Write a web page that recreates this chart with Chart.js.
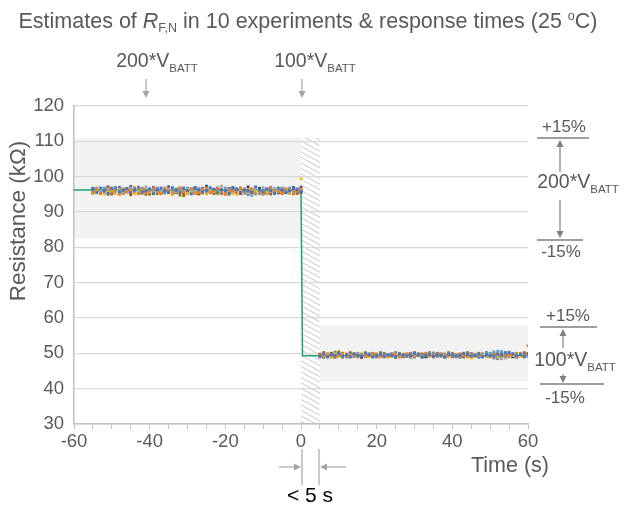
<!DOCTYPE html>
<html>
<head>
<meta charset="utf-8">
<script src="https://cdn.jsdelivr.net/npm/chart.js@4.4.1/dist/chart.umd.min.js"></script>
<style>
  html, body { margin: 0; padding: 0; background: #fff; }
  #wrap { position: relative; width: 636px; height: 510px; }
</style>
</head>
<body>
<div id="wrap"><canvas id="chart" width="636" height="510"></canvas></div>
<script>
// time axis (s)
const leftTimes = [-55,-54,-53,-52,-51,-50,-49,-48,-47,-46,-45,-44,-43,-42,-41,-40,-39,-38,-37,-36,-35,-34,-33,-32,-31,-30,-29,-28,-27,-26,-25,-24,-23,-22,-21,-20,-19,-18,-17,-16,-15,-14,-13,-12,-11,-10,-9,-8,-7,-6,-5,-4,-3,-2,-1,0];
const rightTimes = [5,6,7,8,9,10,11,12,13,14,15,16,17,18,19,20,21,22,23,24,25,26,27,28,29,30,31,32,33,34,35,36,37,38,39,40,41,42,43,44,45,46,47,48,49,50,51,52,53,54,55,56,57,58,59,60];
const xTicks = [-60, -40, -20, 0, 20, 40, 60];
const yTicks = [30, 40, 50, 60, 70, 80, 90, 100, 110, 120];

// R_F,N estimates (kOhm), 200*VBATT phase
const left1 = [96.4,95.5,96.8,96.0,95.3,96.6,96.9,95.7,96.1,96.7,95.4,96.3,97.0,95.6,96.0,96.5,95.2,96.3,96.8,96.0,95.5,96.9,96.2,95.6,96.6,96.0,95.1,96.7,96.3,95.7,96.0,96.9,96.5,95.4,96.3,96.0,95.3,96.7,96.5,95.6,96.2,96.0,95.5,97.1,96.2,95.7,96.5,96.0,95.3,96.8,96.2,95.6,96.0,96.6,96.3,95.7];
const left2 = [95.6,96.5,95.2,96.0,96.8,95.5,96.3,95.1,96.6,95.7,96.0,96.9,95.3,96.3,95.5,96.0,96.8,95.7,95.2,96.6,96.0,95.4,96.3,96.8,95.7,96.0,96.5,95.2,95.7,96.3,96.8,95.5,96.0,96.6,95.7,95.1,96.3,96.0,95.5,96.8,95.7,96.3,96.6,95.4,96.0,95.2,96.3,96.8,95.7,96.0,95.5,96.6,96.3,95.7,96.0,96.5];
const left3 = [96.0,96.8,96.3,95.5,96.6,96.9,95.7,96.3,95.5,96.0,96.8,96.3,95.7,96.6,97.1,96.0,95.5,96.3,96.0,96.8,96.6,95.7,96.0,96.3,96.9,96.6,95.5,96.0,96.8,96.3,95.7,96.6,96.0,96.9,97.3,96.3,95.7,96.0,96.6,96.8,96.0,95.5,96.3,96.6,96.0,96.9,96.3,95.7,96.6,96.0,96.8,96.3,95.5,96.0,96.6,96.3];
const left4 = [95.4,95.8,96.3,95.1,95.6,96.0,95.3,94.9,95.8,95.6,96.1,95.2,95.8,95.4,96.3,95.6,95.1,95.8,95.6,96.1,95.4,94.9,95.8,95.6,96.0,95.3,95.8,95.2,95.6,96.1,95.4,95.8,95.6,95.1,96.0,95.8,95.4,95.6,95.0,95.8,96.3,95.6,95.3,95.8,96.0,95.2,95.6,95.8,95.4,96.0,95.6,95.8,95.2,95.6,96.1,99.4];
const left5 = [96.5,96.0,95.7,96.8,96.3,95.5,96.0,96.6,96.3,95.7,96.8,96.0,95.5,96.3,96.5,95.7,96.0,96.8,96.3,95.5,96.0,96.6,95.7,96.3,96.0,96.8,96.5,95.7,96.3,96.0,95.5,96.5,96.3,95.7,96.0,96.8,96.3,95.5,96.0,96.6,95.3,94.9,94.7,95.1,95.5,96.0,96.3,95.7,96.6,96.0,95.5,96.3,96.8,96.0,95.7,96.3];
const left6 = [96.2,96.0,96.4,95.8,96.2,96.6,96.0,95.8,96.4,96.2,95.8,96.0,96.4,96.2,95.6,96.0,96.2,96.4,96.0,95.8,96.2,96.0,96.5,96.2,95.8,96.0,96.2,96.4,96.0,95.7,96.2,96.0,96.4,96.2,95.8,96.0,96.3,96.4,96.0,95.8,96.2,96.0,96.4,96.2,95.7,96.0,96.2,96.4,96.0,95.8,96.2,96.0,96.4,96.2,95.8,96.0];
const left7 = [96.7,96.0,95.3,96.5,97.1,95.5,96.2,96.9,95.7,96.5,97.2,96.0,95.3,96.7,96.2,95.5,96.9,96.5,95.7,96.0,97.1,96.2,95.5,96.7,96.0,95.3,96.5,96.9,95.7,96.2,97.3,96.0,95.5,96.7,96.2,95.3,96.0,96.9,96.5,95.7,96.2,97.1,95.5,96.0,96.7,95.1,96.5,96.9,95.7,96.2,96.7,95.5,96.0,96.9,96.5,97.0];
const left8 = [95.5,96.0,95.3,95.8,96.2,95.1,95.5,96.0,95.3,95.8,94.9,95.5,96.0,95.3,95.8,95.1,95.5,96.0,95.3,95.8,95.5,95.1,96.0,95.5,95.3,95.8,96.2,95.5,95.1,95.8,95.3,96.0,95.5,95.8,95.3,95.1,95.8,96.0,95.5,95.3,95.8,95.1,95.5,96.0,95.3,95.8,95.5,95.1,96.0,95.5,95.3,95.8,96.2,95.5,95.3,95.8];
const left9 = [96.0,96.5,95.7,96.2,96.7,96.0,95.5,96.5,96.2,95.7,96.0,96.7,96.2,95.5,96.0,96.5,96.9,96.2,95.7,96.0,96.5,96.2,95.7,96.7,96.0,96.2,95.5,96.5,96.0,96.7,96.2,95.7,96.0,96.5,96.2,95.7,96.7,96.0,96.2,95.5,96.5,96.0,95.7,96.2,96.7,96.0,95.3,95.5,96.2,96.0,96.5,95.7,96.2,96.7,96.0,96.2];
const left10 = [95.3,95.8,95.4,95.6,95.0,95.8,95.4,95.2,95.6,95.8,95.2,95.4,95.8,95.6,95.0,95.4,95.8,95.2,95.6,95.4,95.8,95.2,95.6,94.8,94.6,95.4,95.8,95.6,95.2,95.4,95.8,95.6,95.2,95.4,95.8,95.6,95.0,95.4,95.8,95.2,95.6,95.4,95.8,95.2,95.6,95.4,95.8,95.6,95.2,95.4,95.6,95.8,95.4,95.2,95.6,95.4];

// R_F,N estimates (kOhm), 100*VBATT phase
const right1 = [49.2,49.8,49.0,49.6,49.4,50.0,49.2,49.6,49.0,49.8,49.4,49.2,50.0,49.6,49.0,49.4,49.8,49.2,49.6,49.4,49.0,49.8,49.6,49.2,49.4,50.0,49.6,49.0,49.4,49.8,49.2,49.6,49.4,49.0,49.8,49.6,49.2,49.4,50.0,49.6,49.2,49.4,49.8,49.0,49.6,49.4,49.2,49.8,49.6,50.1,50.3,49.9,49.5,49.6,49.2,49.8];
const right2 = [49.6,49.2,49.8,49.4,49.0,49.6,50.0,49.2,49.4,49.8,49.0,49.6,49.2,49.4,49.8,49.6,49.0,49.4,49.2,49.8,49.6,48.9,49.4,49.8,49.2,49.6,49.4,49.0,49.8,49.2,49.6,49.4,49.8,49.2,49.4,49.6,49.0,49.8,49.4,49.2,49.6,49.4,49.8,49.2,49.6,49.0,49.4,49.8,49.2,49.6,49.4,49.8,49.2,49.6,49.4,52.1];
const right3 = [49.0,49.4,48.9,49.6,49.2,49.8,49.0,49.4,49.6,49.2,49.8,49.4,49.0,49.6,49.2,49.4,49.8,49.0,49.6,49.2,49.4,49.8,49.2,49.6,49.0,49.4,49.6,49.2,49.8,49.4,49.0,49.6,49.2,49.4,49.8,49.2,49.6,49.0,49.4,49.6,49.2,49.8,49.4,49.0,49.2,49.6,48.9,48.7,48.5,48.7,49.0,49.4,49.2,49.6,49.4,49.2];
const right4 = [49.2,49.6,49.4,49.0,49.8,49.2,49.4,49.6,49.0,49.4,49.2,49.6,49.4,49.0,49.8,49.2,49.6,49.4,49.0,49.2,49.6,49.4,49.8,49.2,49.0,49.4,49.6,49.2,49.4,49.8,49.0,49.6,49.2,49.4,49.0,49.6,49.2,49.8,49.4,48.9,48.7,49.2,49.6,49.4,49.0,49.2,49.6,49.4,49.2,49.6,49.0,49.4,49.8,49.2,49.4,49.6];
const right5 = [49.4,49.8,49.2,49.6,50.0,49.4,49.8,49.2,49.6,49.4,50.0,49.6,49.2,49.8,49.4,49.6,49.2,49.8,49.4,49.6,50.0,49.2,49.6,49.4,49.8,49.2,49.6,49.4,49.8,49.6,50.1,49.8,49.4,49.6,49.2,49.8,49.4,49.6,50.0,49.4,49.8,49.6,49.2,49.8,50.2,50.0,50.4,50.6,50.5,50.1,49.8,49.6,49.4,49.8,49.6,49.4];
const right6 = [49.4,49.2,49.6,49.4,49.2,49.6,49.4,49.2,49.6,49.4,49.1,49.4,49.6,49.2,49.4,49.7,49.4,49.2,49.6,49.4,49.2,49.4,49.6,49.1,49.4,49.6,49.4,49.2,49.7,49.4,49.2,49.4,49.6,49.2,49.4,49.6,49.4,49.1,49.4,49.6,49.2,49.4,49.6,49.4,49.2,49.7,49.4,49.2,49.4,49.6,49.2,49.4,49.6,49.4,49.2,49.4];
const right7 = [49.0,49.6,49.2,49.8,48.9,49.4,49.6,49.0,49.8,49.2,49.4,48.9,49.6,49.2,49.8,49.0,49.4,49.6,49.2,49.8,49.0,49.4,49.2,49.6,48.9,49.4,49.8,49.2,49.0,49.6,49.4,49.2,49.8,49.0,49.6,49.2,49.4,48.9,49.6,49.2,49.8,49.4,49.0,49.6,49.2,49.4,49.8,49.0,49.4,49.2,49.6,49.0,49.4,49.8,49.2,49.6];
const right8 = [49.6,49.4,49.8,49.2,49.6,50.0,49.4,49.6,49.2,49.8,49.4,49.6,49.2,49.8,49.6,49.4,49.8,49.2,49.6,49.4,49.8,49.6,49.2,49.4,49.8,49.6,49.4,49.8,49.2,49.6,49.4,49.8,49.6,49.2,49.4,49.8,49.6,49.4,49.2,49.6,49.8,49.4,49.6,49.2,49.8,49.4,49.6,49.2,49.4,49.8,49.6,49.2,49.4,49.6,49.8,49.4];
const right9 = [49.2,48.9,49.4,49.0,49.6,49.2,48.9,49.4,49.0,49.2,49.6,48.9,49.2,49.4,49.0,49.2,49.6,49.0,49.4,49.2,48.9,49.4,49.0,49.6,49.2,49.0,49.4,48.9,49.2,49.6,49.0,49.4,49.2,48.9,49.4,49.0,49.2,49.6,49.0,49.4,48.9,49.2,49.0,49.4,49.6,49.2,48.7,48.5,48.8,49.0,49.4,49.2,48.9,49.4,49.0,49.2];
const right10 = [49.8,50.2,49.6,50.0,50.3,50.4,50.0,49.8,50.2,49.6,50.0,49.8,50.2,49.6,50.0,49.8,50.2,50.0,49.6,49.8,50.2,50.0,49.6,49.8,50.0,50.2,49.8,49.6,50.0,50.2,49.8,50.0,49.6,49.8,50.2,50.0,49.6,49.8,50.0,50.2,49.8,49.6,50.0,49.8,50.2,50.0,49.6,49.8,50.0,50.2,49.8,49.6,50.0,49.8,50.2,50.0];

// reference (nominal) resistance step
const refTimes = [-60, 0, 0.4, 60];
const refValues = [96.2, 96.2, 49.3, 49.3];

// tolerance bands (+/-15%) and response window: [xFrom, xTo, yFrom, yTo]
const band200 = [-60, 0, 82.5, 111];
const band100 = [5, 60, 42, 58];
const hatchSpan = [0, 5, 30, 111];

const leftSeries = [left1, left2, left3, left4, left5, left6, left7, left8, left9, left10];
const rightSeries = [right1, right2, right3, right4, right5, right6, right7, right8, right9, right10];
const colors = ['#4472C4', '#ED7D31', '#A5A5A5', '#FFC000', '#5B9BD5', '#70AD47', '#264478', '#9E480E', '#636363', '#997300'];

const FONT = '"Liberation Sans", Arial, sans-serif';
const TXT = '#595959';

const datasets = leftSeries.map(function(ls, i) {
    const pts = leftTimes.map((t, k) => ({ x: t, y: ls[k] }))
        .concat(rightTimes.map((t, k) => ({ x: t, y: rightSeries[i][k] })));
    return {
        type: 'scatter',
        label: 'Exp ' + (i + 1),
        data: pts,
        backgroundColor: colors[i],
        borderWidth: 0,
        pointStyle: 'rect',
        pointRadius: 2,
        pointHoverRadius: 2
    };
});
datasets.push({
    type: 'line',
    label: 'ref',
    data: refTimes.map((t, k) => ({ x: t, y: refValues[k] })),
    borderColor: '#22a36c',
    borderWidth: 1.5,
    pointRadius: 0,
    tension: 0
});

function rect(xs, ys, b) {
    const x1 = xs.getPixelForValue(b[0]), x2 = xs.getPixelForValue(b[1]);
    const y1 = ys.getPixelForValue(b[3]), y2 = ys.getPixelForValue(b[2]);
    return [x1, y1, x2 - x1, y2 - y1];
}

// gray tolerance bands and hatched response window, under the grid
const bandPlugin = {
    id: 'bands',
    beforeDraw(chart) {
        const ctx = chart.ctx, xs = chart.scales.x, ys = chart.scales.y;
        ctx.save();
        ctx.fillStyle = '#f2f2f2';
        [band200, band100].forEach(b => {
            const r = rect(xs, ys, b);
            ctx.fillRect(r[0], r[1], r[2], r[3]);
        });

        const h = rect(xs, ys, hatchSpan);
        ctx.beginPath();
        ctx.rect(h[0], h[1], h[2], h[3]);
        ctx.clip();
        ctx.strokeStyle = '#c8c8c8';
        ctx.lineWidth = 1;
        ctx.beginPath();
        for (let y = h[1] - h[2]; y < h[1] + h[3] + 5; y += 5.5) {
            ctx.moveTo(h[0], y);
            ctx.lineTo(h[0] + h[2], y + h[2] * 0.55);
        }
        ctx.stroke();
        ctx.restore();
    }
};

function drawParts(ctx, parts, x, y, align) {
    let w = 0;
    parts.forEach(p => { ctx.font = p.font; p.w = ctx.measureText(p.t).width; w += p.w; });
    let cx = align === 'center' ? x - w / 2 : (align === 'right' ? x - w : x);
    ctx.textAlign = 'left';
    ctx.textBaseline = 'middle';
    parts.forEach(p => {
        ctx.font = p.font;
        ctx.fillText(p.t, cx, y + (p.dy || 0));
        cx += p.w;
    });
}

function arrow(ctx, x1, y1, x2, y2, color) {
    const a = Math.atan2(y2 - y1, x2 - x1), len = 7, hw = 3.5;
    ctx.strokeStyle = color;
    ctx.fillStyle = color;
    ctx.lineWidth = 1.2;
    ctx.beginPath();
    ctx.moveTo(x1, y1);
    ctx.lineTo(x2 - Math.cos(a) * len * 0.8, y2 - Math.sin(a) * len * 0.8);
    ctx.stroke();
    ctx.beginPath();
    ctx.moveTo(x2, y2);
    ctx.lineTo(x2 - Math.cos(a) * len - Math.sin(a) * hw, y2 - Math.sin(a) * len + Math.cos(a) * hw);
    ctx.lineTo(x2 - Math.cos(a) * len + Math.sin(a) * hw, y2 - Math.sin(a) * len - Math.cos(a) * hw);
    ctx.closePath();
    ctx.fill();
}

function hline(ctx, x1, x2, y) {
    ctx.strokeStyle = '#404040';
    ctx.lineWidth = 1.2;
    ctx.beginPath();
    ctx.moveTo(x1, y);
    ctx.lineTo(x2, y);
    ctx.stroke();
}

function vbatt(ctx, n, x, y, align) {
    drawParts(ctx, [
        { t: n + '*V', font: '19.5px ' + FONT },
        { t: 'BATT', font: '11.5px ' + FONT, dy: 7 }
    ], x, y, align);
}

const annotPlugin = {
    id: 'annot',
    afterDraw(chart) {
        const ctx = chart.ctx;
        ctx.save();
        ctx.fillStyle = TXT;

        // title
        drawParts(ctx, [
            { t: 'Estimates of ', font: '21.5px ' + FONT },
            { t: 'R', font: 'italic 21.5px ' + FONT },
            { t: 'F,N', font: '12.5px ' + FONT, dy: 7 },
            { t: ' in 10 experiments & response times (25 ', font: '21.5px ' + FONT },
            { t: 'o', font: '12.5px ' + FONT, dy: -5 },
            { t: 'C)', font: '21.5px ' + FONT }
        ], 308, 22, 'center');

        // y axis title
        ctx.save();
        ctx.translate(19, 221);
        ctx.rotate(-Math.PI / 2);
        ctx.font = '22.5px ' + FONT;
        ctx.textAlign = 'center';
        ctx.textBaseline = 'middle';
        ctx.fillText('Resistance (k\u03A9)', 0, 0);
        ctx.restore();

        // x axis title
        ctx.fillStyle = TXT;
        ctx.font = '21.5px ' + FONT;
        ctx.textAlign = 'center';
        ctx.textBaseline = 'middle';
        ctx.fillText('Time (s)', 510, 466);

        // top markers
        ctx.fillStyle = TXT;
        vbatt(ctx, '200', 157, 62, 'center');
        vbatt(ctx, '100', 315, 62, 'center');
        arrow(ctx, 146, 79, 146, 98, '#a6a6a6');
        arrow(ctx, 302, 79, 302, 98, '#a6a6a6');

        // response-time marker under axis
        ctx.strokeStyle = '#a6a6a6';
        ctx.lineWidth = 1.2;
        ctx.beginPath();
        ctx.moveTo(302, 449); ctx.lineTo(302, 485);
        ctx.moveTo(319, 449); ctx.lineTo(319, 485);
        ctx.stroke();
        arrow(ctx, 279, 467, 301, 467, '#a6a6a6');
        arrow(ctx, 346, 467, 320, 467, '#a6a6a6');
        ctx.fillStyle = '#000';
        ctx.font = '21px ' + FONT;
        ctx.textAlign = 'center';
        ctx.textBaseline = 'middle';
        ctx.fillText('< 5 s', 310, 496);

        // +/-15% brackets, right side
        ctx.fillStyle = TXT;
        ctx.font = '17px ' + FONT;
        ctx.textAlign = 'center';
        ctx.fillText('+15%', 564, 127);
        hline(ctx, 537, 589, 138);
        arrow(ctx, 560, 172, 560, 140, '#808080');
        ctx.fillStyle = TXT;
        vbatt(ctx, '200', 578, 183, 'center');
        arrow(ctx, 560, 200, 560, 238, '#808080');
        hline(ctx, 537, 583, 240);
        ctx.fillStyle = TXT;
        ctx.font = '17px ' + FONT;
        ctx.textAlign = 'center';
        ctx.fillText('-15%', 561, 252);

        ctx.fillText('+15%', 568, 316);
        hline(ctx, 540, 597, 327);
        arrow(ctx, 563, 348, 563, 329, '#808080');
        ctx.fillStyle = TXT;
        vbatt(ctx, '100', 575, 361, 'center');
        arrow(ctx, 563, 374, 563, 383, '#808080');
        hline(ctx, 540, 604, 384);
        ctx.fillStyle = TXT;
        ctx.font = '17px ' + FONT;
        ctx.textAlign = 'center';
        ctx.fillText('-15%', 565, 398);

        ctx.restore();
    }
};

new Chart(document.getElementById('chart'), {
    type: 'scatter',
    data: { datasets: datasets },
    options: {
        responsive: false,
        animation: false,
        devicePixelRatio: 1,
        layout: { padding: { left: 0, top: 106, right: 108, bottom: 0 } },
        plugins: { legend: { display: false }, tooltip: { enabled: false } },
        scales: {
            x: {
                type: 'linear',
                min: -60,
                max: 60,
                afterFit: s => { s.height = 510 - 424; },
                afterBuildTicks: s => {
                    const t = [];
                    for (let v = -60; v <= 60; v += 5) t.push({ value: v });
                    s.ticks = t;
                },
                ticks: {
                    autoSkip: false,
                    maxRotation: 0,
                    padding: 2,
                    color: TXT,
                    font: { family: FONT, size: 18.5 },
                    callback: v => xTicks.includes(v) ? String(v) : ''
                },
                grid: { drawOnChartArea: false, drawTicks: true, tickLength: 5, color: '#bfbfbf' },
                border: { color: '#bfbfbf', width: 1.5 }
            },
            y: {
                type: 'linear',
                min: yTicks[0],
                max: yTicks[yTicks.length - 1],
                afterFit: s => { s.width = 74; },
                ticks: { stepSize: 10, padding: 10, color: TXT, font: { family: FONT, size: 18.5 } },
                grid: { color: '#d9d9d9', lineWidth: 1.2, drawTicks: false },
                border: { color: '#bfbfbf', width: 1.5 }
            }
        }
    },
    plugins: [bandPlugin, annotPlugin]
});
</script>
</body>
</html>
